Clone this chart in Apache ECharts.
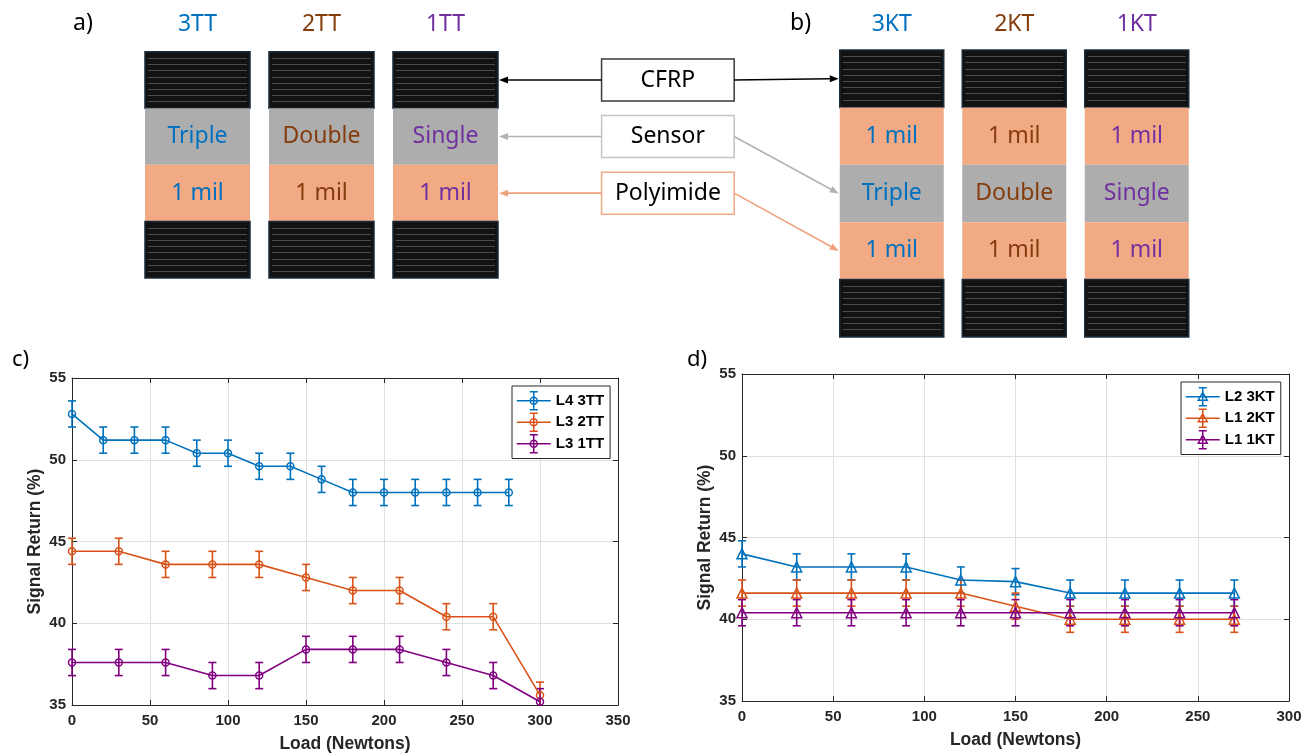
<!DOCTYPE html>
<html>
<head>
<meta charset="utf-8">
<script src="https://cdn.jsdelivr.net/npm/echarts@6/dist/echarts.min.js"></script>
<style>
  html, body { margin: 0; padding: 0; background: #ffffff; }
  #chart { width: 1314px; height: 756px; }
</style>
</head>
<body>
<div id="chart"></div>
<script>
// ---------- a) and b): layer stacks of the specimens ----------
const stacksA = ['3TT', '2TT', '1TT'];
const stacksB = ['3KT', '2KT', '1KT'];
const sensorWords = ['Triple', 'Double', 'Single'];
const layersA = ['CFRP', 'Sensor', 'Polyimide', 'CFRP'];
const layersB = ['CFRP', 'Polyimide', 'Sensor', 'Polyimide', 'CFRP'];
const polyimideLabel = '1 mil';
const stackColors = ['#0070C0', '#843C0C', '#7030A0'];
const calloutLabels = ['CFRP', 'Sensor', 'Polyimide'];

// ---------- c) signal return vs load, TT specimens ----------
const loadC3TT = [0, 20, 40, 60, 80, 100, 120, 140, 160, 180, 200, 220, 240, 260, 280];
const ret3TT = [52.8, 51.2, 51.2, 51.2, 50.4, 50.4, 49.6, 49.6, 48.8, 48.0, 48.0, 48.0, 48.0, 48.0, 48.0];
const err3TT = [0.8, 0.8, 0.8, 0.8, 0.8, 0.8, 0.8, 0.8, 0.8, 0.8, 0.8, 0.8, 0.8, 0.8, 0.8];
const loadC = [0, 30, 60, 90, 120, 150, 180, 210, 240, 270, 300];
const ret2TT = [44.4, 44.4, 43.6, 43.6, 43.6, 42.8, 42.0, 42.0, 40.4, 40.4, 35.6];
const err2TT = [0.8, 0.8, 0.8, 0.8, 0.8, 0.8, 0.8, 0.8, 0.8, 0.8, 0.8];
const ret1TT = [37.6, 37.6, 37.6, 36.8, 36.8, 38.4, 38.4, 38.4, 37.6, 36.8, 35.2];
const err1TT = [0.8, 0.8, 0.8, 0.8, 0.8, 0.8, 0.8, 0.8, 0.8, 0.8, 0.8];
const xTicksC = [0, 50, 100, 150, 200, 250, 300, 350];

// ---------- d) signal return vs load, KT specimens ----------
const loadD = [0, 30, 60, 90, 120, 150, 180, 210, 240, 270];
const ret3KT = [44.0, 43.2, 43.2, 43.2, 42.4, 42.3, 41.6, 41.6, 41.6, 41.6];
const err3KT = [0.8, 0.8, 0.8, 0.8, 0.8, 0.8, 0.8, 0.8, 0.8, 0.8];
const ret2KT = [41.6, 41.6, 41.6, 41.6, 41.6, 40.8, 40.0, 40.0, 40.0, 40.0];
const err2KT = [0.8, 0.8, 0.8, 0.8, 0.8, 0.8, 0.8, 0.8, 0.8, 0.8];
const ret1KT = [40.4, 40.4, 40.4, 40.4, 40.4, 40.4, 40.4, 40.4, 40.4, 40.4];
const err1KT = [0.8, 0.8, 0.8, 0.8, 0.8, 0.8, 0.8, 0.8, 0.8, 0.8];
const xTicksD = [0, 50, 100, 150, 200, 250, 300];
const yTicks = [35, 40, 45, 50, 55];

// line colours of the measured series
const BLUE = '#0072BD', ORANGE = '#D95319', PURPLE = '#800080';
const AXIS = '#262626';
const PLOT_FONT = '"Liberation Sans", Arial, Helvetica, sans-serif';
const DIAGRAM_FONT = '"Noto Sans", "Open Sans", sans-serif';

// ---------- layer stack drawing ----------
const FRAC_A = 0.847, FRAC_B = 0.849;

function buildCells(layers) {
  const cells = [];
  for (let c = 0; c < 3; c++) {
    layers.forEach((kind, r) => cells.push({ col: c, row: r, kind: kind }));
  }
  return cells;
}
const cellsA = buildCells(layersA);
const cellsB = buildCells(layersB);

function layerRenderer(cells, frac) {
  return function (params, api) {
    const cell = cells[params.dataIndex];
    const p0 = api.coord([cell.col, cell.row]);
    const p1 = api.coord([cell.col, cell.row + 1]);
    const bw = api.size([1, 0])[0] * frac;
    const x = p0[0] - bw / 2;
    const y = p0[1];
    const h = p1[1] - p0[1];
    const kids = [];
    if (cell.kind === 'CFRP') {
      kids.push({ type: 'rect', shape: { x: x, y: y, width: bw, height: h },
        style: { fill: '#121212', stroke: '#1c2d3c', lineWidth: 1.5 } });
      for (let k = 1; k * 6.2 < h - 2; k++) {
        const ly = Math.round(y + k * 6.2) + 0.5;
        kids.push({ type: 'line', shape: { x1: x + 3, y1: ly, x2: x + bw - 3, y2: ly },
          style: { stroke: '#4c4c4c', lineWidth: 1 } });
      }
    } else {
      const isSensor = cell.kind === 'Sensor';
      kids.push({ type: 'rect', shape: { x: x, y: y, width: bw, height: h },
        style: { fill: isSensor ? '#ADADAD' : '#F2AA85' } });
      kids.push({ type: 'text', x: p0[0], y: y + h / 2,
        style: { text: isSensor ? sensorWords[cell.col] : polyimideLabel,
          fill: stackColors[cell.col], font: '23px ' + DIAGRAM_FONT,
          align: 'center', verticalAlign: 'middle' } });
    }
    return { type: 'group', children: kids };
  };
}

// ---------- error bars ----------
function errorBarItem(params, api) {
  const cs = params.coordSys;
  const x = api.value(0);
  const pLo = api.coord([x, api.value(1)]);
  const pHi = api.coord([x, api.value(2)]);
  const yTop = cs.y, yBot = cs.y + cs.height;
  const cx = pLo[0];
  const st = { stroke: api.visual('color'), lineWidth: 1.6, fill: null };
  const kids = [{ type: 'line', shape: { x1: cx, y1: Math.max(pHi[1], yTop), x2: cx, y2: Math.min(pLo[1], yBot) }, style: st }];
  if (pHi[1] >= yTop) kids.push({ type: 'line', shape: { x1: cx - 4, y1: pHi[1], x2: cx + 4, y2: pHi[1] }, style: st });
  if (pLo[1] <= yBot) kids.push({ type: 'line', shape: { x1: cx - 4, y1: pLo[1], x2: cx + 4, y2: pLo[1] }, style: st });
  return { type: 'group', children: kids };
}

function measured(name, xs, ys, es, color, marker, axisIdx) {
  const pts = xs.map((x, i) => [x, ys[i]]);
  const bars = xs.map((x, i) => [x, ys[i] - es[i], ys[i] + es[i]]);
  return [
    { type: 'custom', name: name + ' err', xAxisIndex: axisIdx, yAxisIndex: axisIdx,
      data: bars, encode: { x: 0, y: [1, 2] }, renderItem: errorBarItem,
      itemStyle: { color: color }, silent: true, z: 3 },
    { type: 'line', name: name, xAxisIndex: axisIdx, yAxisIndex: axisIdx, data: pts,
      symbol: marker, symbolSize: marker === 'circle' ? 7 : 10,
      itemStyle: { color: 'rgba(0,0,0,0)', borderColor: color, borderWidth: 1.5 },
      lineStyle: { color: color, width: 1.6 }, silent: true, z: 4 }
  ];
}

// ---------- axes of the plots ----------
function plotAxes(grid, ticksX, xName) {
  const xMain = {
    type: 'value', gridIndex: grid, position: 'bottom',
    min: ticksX[0], max: ticksX[ticksX.length - 1], interval: ticksX[1] - ticksX[0],
    axisLine: { onZero: false, lineStyle: { color: AXIS, width: 1 } },
    axisTick: { inside: true, length: 5, lineStyle: { color: AXIS } },
    splitLine: { show: true, lineStyle: { color: '#e0e0e0', width: 1 } },
    axisLabel: { margin: 8, color: AXIS, fontWeight: 'bold', fontSize: 15, fontFamily: PLOT_FONT },
    name: xName, nameLocation: 'middle', nameGap: 30,
    nameTextStyle: { color: AXIS, fontWeight: 'bold', fontSize: 17.5, fontFamily: PLOT_FONT }
  };
  const xTop = {
    type: 'value', gridIndex: grid, position: 'top',
    min: ticksX[0], max: ticksX[ticksX.length - 1], interval: ticksX[1] - ticksX[0],
    axisLine: { onZero: false, lineStyle: { color: AXIS, width: 1 } },
    axisTick: { inside: true, length: 5, lineStyle: { color: AXIS } },
    splitLine: { show: false }, axisLabel: { show: false }
  };
  const yMain = {
    type: 'value', gridIndex: grid, position: 'left',
    min: yTicks[0], max: yTicks[yTicks.length - 1], interval: yTicks[1] - yTicks[0],
    axisLine: { show: true, onZero: false, lineStyle: { color: AXIS, width: 1 } },
    axisTick: { show: true, inside: true, length: 5, lineStyle: { color: AXIS } },
    splitLine: { show: true, lineStyle: { color: '#e0e0e0', width: 1 } },
    axisLabel: { margin: 6, color: AXIS, fontWeight: 'bold', fontSize: 15, fontFamily: PLOT_FONT },
    name: 'Signal Return (%)', nameLocation: 'middle', nameGap: 28,
    nameTextStyle: { color: AXIS, fontWeight: 'bold', fontSize: 17.5, fontFamily: PLOT_FONT }
  };
  const yRight = {
    type: 'value', gridIndex: grid, position: 'right',
    min: yTicks[0], max: yTicks[yTicks.length - 1], interval: yTicks[1] - yTicks[0],
    axisLine: { show: true, onZero: false, lineStyle: { color: AXIS, width: 1 } },
    axisTick: { show: true, inside: true, length: 5, lineStyle: { color: AXIS } },
    splitLine: { show: false }, axisLabel: { show: false }
  };
  return { x: [xMain, xTop], y: [yMain, yRight] };
}
const axesC = plotAxes(2, xTicksC, 'Load (Newtons)');
const axesD = plotAxes(3, xTicksD, 'Load (Newtons)');

// ---------- legend icons: line, error bar and marker ----------
const ICON_CIRCLE = 'path://M0,9L34,9M17,0L17,18M13,0L21,0M13,18L21,18M20.5,9A3.5,3.5,0,1,1,13.5,9A3.5,3.5,0,1,1,20.5,9';
const ICON_TRI = 'path://M0,9L34,9M17,0L17,18M13,0L21,0M13,18L21,18M17,4.5L21.5,12.5L12.5,12.5Z';
function legendItem(name, color, icon) {
  return { name: name, icon: icon,
    itemStyle: { color: 'rgba(0,0,0,0)', borderColor: color, borderWidth: 1.5 } };
}
function legendBox(items, left, top) {
  return {
    data: items, left: left, top: top, orient: 'vertical',
    itemWidth: 34, itemHeight: 18, itemGap: 2, padding: [5, 6, 5, 4],
    borderColor: AXIS, borderWidth: 1, backgroundColor: '#ffffff', selectedMode: false,
    textStyle: { color: '#000000', fontWeight: 'bold', fontSize: 15, fontFamily: PLOT_FONT }
  };
}

function panelTitle(text, left, top, size) {
  return { text: text, left: left, top: top, padding: 0,
    textStyle: { fontSize: size, fontWeight: 'normal', color: '#000000', fontFamily: DIAGRAM_FONT } };
}

function stackAxis(grid, names) {
  return {
    type: 'category', gridIndex: grid, position: 'top',
    data: names.map((n, i) => ({ value: n, textStyle: { color: stackColors[i] } })),
    axisLine: { show: false }, axisTick: { show: false }, splitLine: { show: false },
    axisLabel: { margin: grid === 0 ? 16 : 14.5, fontSize: 23, fontFamily: DIAGRAM_FONT }
  };
}

const option = {
  animation: false,
  backgroundColor: '#ffffff',
  title: [
    panelTitle('a)', 73, 12, 23),
    panelTitle('b)', 790, 12, 23),
    panelTitle('c)', 12, 349, 22),
    panelTitle('d)', 687, 349, 22)
  ],
  grid: [
    { left: 135.5, top: 51.7, width: 372, height: 226.3 },
    { left: 830.5, top: 50, width: 367.5, height: 287 },
    { left: 72, top: 378, width: 546, height: 327 },
    { left: 742, top: 374, width: 547, height: 327 }
  ],
  xAxis: [stackAxis(0, stacksA), stackAxis(1, stacksB)].concat(axesC.x, axesD.x),
  yAxis: [
    { type: 'value', gridIndex: 0, min: 0, max: layersA.length, inverse: true, show: false },
    { type: 'value', gridIndex: 1, min: 0, max: layersB.length, inverse: true, show: false }
  ].concat(axesC.y, axesD.y),
  legend: [
    legendBox([legendItem('L4 3TT', BLUE, ICON_CIRCLE), legendItem('L3 2TT', ORANGE, ICON_CIRCLE),
      legendItem('L3 1TT', PURPLE, ICON_CIRCLE)], 512, 386),
    legendBox([legendItem('L2 3KT', BLUE, ICON_TRI), legendItem('L1 2KT', ORANGE, ICON_TRI),
      legendItem('L1 1KT', PURPLE, ICON_TRI)], 1181, 382)
  ],
  series: [
    { type: 'custom', xAxisIndex: 0, yAxisIndex: 0, silent: true,
      data: cellsA.map(c => [c.col, c.row]), renderItem: layerRenderer(cellsA, FRAC_A) },
    { type: 'custom', xAxisIndex: 1, yAxisIndex: 1, silent: true,
      data: cellsB.map(c => [c.col, c.row]), renderItem: layerRenderer(cellsB, FRAC_B) }
  ].concat(
    measured('L4 3TT', loadC3TT, ret3TT, err3TT, BLUE, 'circle', 2),
    measured('L3 2TT', loadC, ret2TT, err2TT, ORANGE, 'circle', 2),
    measured('L3 1TT', loadC, ret1TT, err1TT, PURPLE, 'circle', 2),
    measured('L2 3KT', loadD, ret3KT, err3KT, BLUE, 'triangle', 4),
    measured('L1 2KT', loadD, ret2KT, err2KT, ORANGE, 'triangle', 4),
    measured('L1 1KT', loadD, ret1KT, err1KT, PURPLE, 'triangle', 4)
  )
};

const chart = echarts.init(document.getElementById('chart'), null, { renderer: 'canvas' });
chart.setOption(option);

// ---------- callout boxes with arrows between the two stack diagrams ----------
function stackPoint(idx, col, row) {
  return chart.convertToPixel({ xAxisIndex: idx, yAxisIndex: idx }, [col, row]);
}
const bandA = stackPoint(0, 1, 0)[0] - stackPoint(0, 0, 0)[0];
const bandB = stackPoint(1, 1, 0)[0] - stackPoint(1, 0, 0)[0];
const aRight = stackPoint(0, 2, 0)[0] + bandA * FRAC_A / 2;
const bLeft = stackPoint(1, 0, 0)[0] - bandB * FRAC_B / 2;
const boxW = 132.6, boxH = 42;
const boxCx = (aRight + bLeft) / 2 - 1;
const boxL = boxCx - boxW / 2, boxR = boxCx + boxW / 2;

const calloutStyle = [
  { border: '#3a3a3a', arrow: '#000000', rowA: 0, rowB: 0 },
  { border: '#c4c4c4', arrow: '#b3b3b3', rowA: 1, rowB: 2 },
  { border: '#F2AA85', arrow: '#F0A27C', rowA: 2, rowB: 3 }
];

function arrow(x1, y1, x2, y2, color) {
  const ang = Math.atan2(y2 - y1, x2 - x1);
  const L = 9, W = 3.5;
  const bx = x2 - L * Math.cos(ang), by = y2 - L * Math.sin(ang);
  const nx = -Math.sin(ang) * W, ny = Math.cos(ang) * W;
  return [
    { type: 'line', shape: { x1: x1, y1: y1, x2: bx, y2: by }, style: { stroke: color, lineWidth: 1.6 } },
    { type: 'polygon', shape: { points: [[x2, y2], [bx + nx, by + ny], [bx - nx, by - ny]] }, style: { fill: color } }
  ];
}

const graphics = [];
calloutLabels.forEach((label, i) => {
  const cs = calloutStyle[i];
  const yA = stackPoint(0, 0, cs.rowA + 0.5)[1];
  const yB = stackPoint(1, 0, cs.rowB + 0.5)[1];
  graphics.push({ type: 'rect', shape: { x: boxL, y: yA - boxH / 2, width: boxW, height: boxH },
    style: { fill: '#ffffff', stroke: cs.border, lineWidth: 1.5 }, z: 10 });
  graphics.push({ type: 'text', x: boxCx, y: yA, z: 11,
    style: { text: label, fill: '#000000', font: '23px ' + DIAGRAM_FONT, align: 'center', verticalAlign: 'middle' } });
  arrow(boxL, yA, aRight + 1, yA, cs.arrow).forEach(g => graphics.push(Object.assign(g, { z: 10 })));
  arrow(boxR, yA, bLeft - 1, yB, cs.arrow).forEach(g => graphics.push(Object.assign(g, { z: 10 })));
});
chart.setOption({ graphic: graphics });
</script>
</body>
</html>
